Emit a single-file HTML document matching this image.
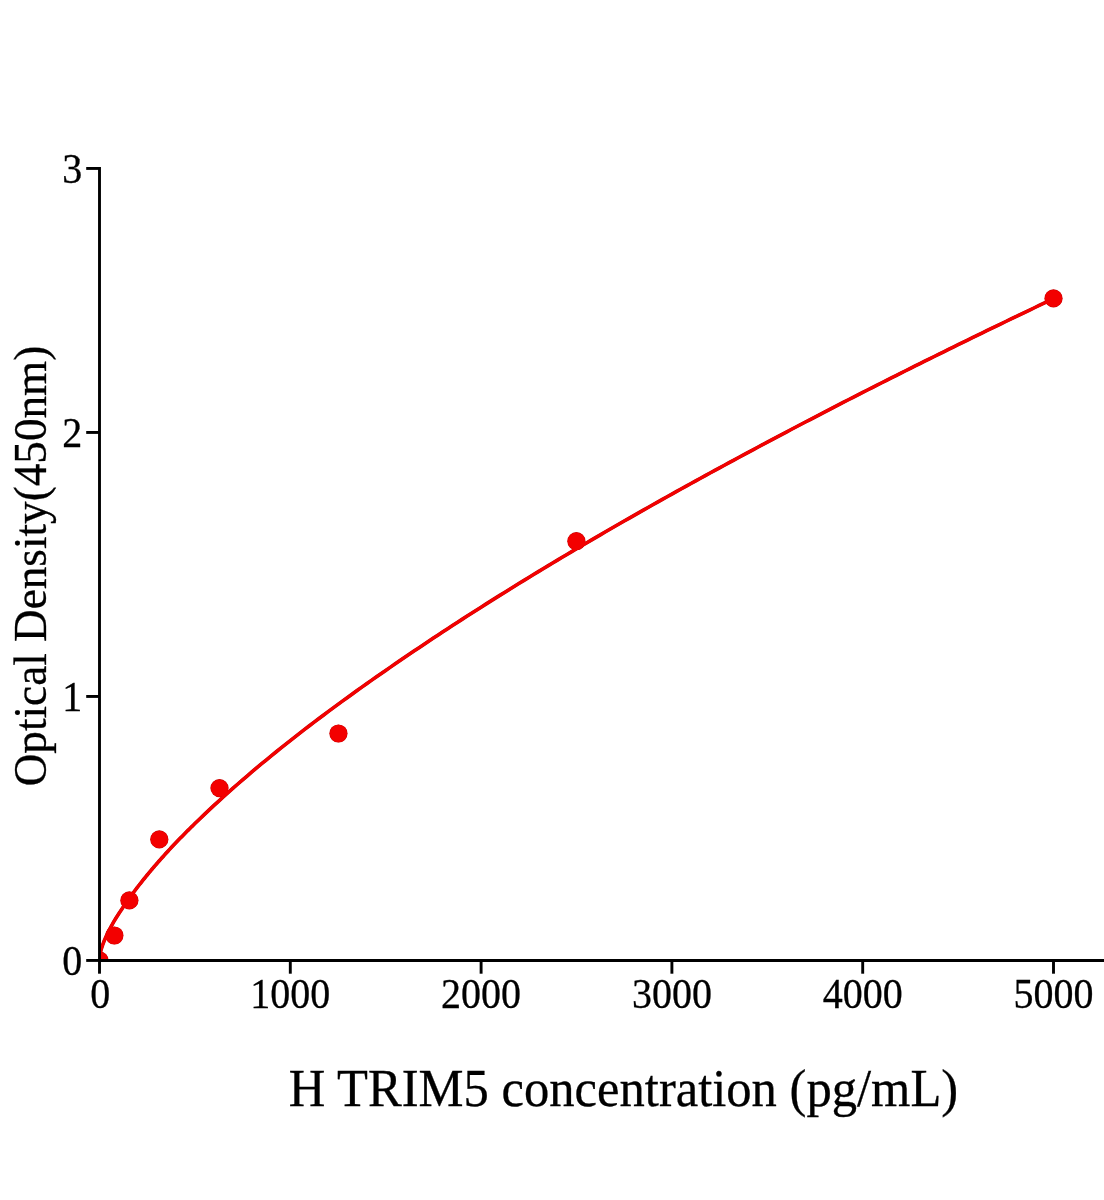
<!DOCTYPE html>
<html><head><meta charset="utf-8"><title>H TRIM5 standard curve</title>
<style>
html,body{margin:0;padding:0;background:#fff;}
svg{display:block;will-change:transform;font-family:"Liberation Serif",serif;}
</style></head>
<body>
<svg width="1104" height="1200" viewBox="0 0 1104 1200">
<rect width="1104" height="1200" fill="#fff"/>
<defs><clipPath id="plot"><rect x="99.5" y="100" width="1010" height="860.45"/></clipPath></defs>
<g clip-path="url(#plot)">
<g fill="#c40000" stroke="#c40000">
<polyline points="99.50,957.96 99.69,956.08 99.88,954.92 100.07,953.95 100.26,953.07 100.45,952.26 100.64,951.49 100.84,950.77 101.03,950.08 101.22,949.42 101.41,948.77 101.60,948.15 101.79,947.55 101.98,946.96 102.17,946.38 102.36,945.82 102.55,945.27 102.74,944.73 102.93,944.20 103.13,943.68 103.32,943.17 103.51,942.67 103.70,942.17 103.89,941.69 104.08,941.21 104.27,940.73 104.46,940.27 104.65,939.80 104.84,939.35 105.03,938.90 105.22,938.45 105.41,938.01 105.61,937.58 105.80,937.15 105.99,936.72 106.18,936.30 106.37,935.88 106.56,935.47 106.75,935.06 106.94,934.65 107.13,934.25 107.32,933.85 107.51,933.45 107.70,933.06 107.90,932.66 108.09,932.28 108.28,931.89 108.47,931.51 108.66,931.13 108.85,930.76 109.04,930.38 109.99,928.55 110.95,926.78 111.90,925.05 112.86,923.36 113.81,921.72 114.76,920.10 115.72,918.53 116.67,917.01 117.63,915.52 118.58,914.05 119.53,912.59 120.49,911.12 121.44,909.65 122.40,908.21 123.35,906.78 124.30,905.37 125.26,903.97 126.21,902.59 127.17,901.23 128.12,899.87 129.07,898.53 130.03,897.21 130.98,895.89 131.94,894.59 132.89,893.29 133.84,892.01 134.80,890.73 135.75,889.47 136.71,888.21 137.66,886.97 138.61,885.73 139.57,884.51 140.52,883.29 141.48,882.08 142.43,880.88 143.38,879.68 144.34,878.50 145.29,877.32 146.25,876.15 147.20,874.99 148.15,873.83 149.11,872.68 150.06,871.54 151.02,870.40 151.97,869.27 152.92,868.15 153.88,867.03 154.83,865.92 155.79,864.81 156.74,863.71 157.69,862.62 158.65,861.53 159.60,860.45 160.56,859.37 161.51,858.30 162.46,857.23 163.42,856.17 164.37,855.11 165.33,854.06 166.28,853.01 167.23,851.97 168.19,850.93 169.14,849.90 170.10,848.87 171.05,847.85 172.00,846.83 172.96,845.82 173.91,844.81 174.87,843.80 175.82,842.80 176.77,841.81 177.73,840.81 178.68,839.83 179.64,838.84 180.59,837.86 181.54,836.88 182.50,835.91 183.45,834.94 184.41,833.97 185.36,833.01 186.31,832.05 187.27,831.09 188.22,830.14 189.18,829.19 190.13,828.24 191.08,827.29 192.04,826.35 192.99,825.42 193.95,824.48 194.90,823.55 199.67,818.93 204.44,814.37 209.21,809.88 213.98,805.43 218.75,801.05 223.52,796.71 228.29,792.42 233.06,788.19 237.83,784.00 242.60,779.86 247.37,775.77 252.14,771.71 256.91,767.70 261.68,763.72 266.45,759.77 271.22,755.87 275.99,751.99 280.76,748.15 285.53,744.35 290.30,740.57 295.07,736.83 299.84,733.11 304.61,729.43 309.38,725.78 314.15,722.15 318.92,718.54 323.69,714.97 328.46,711.41 333.23,707.88 338.00,704.37 342.77,700.89 347.54,697.42 352.31,693.98 357.08,690.55 361.85,687.15 366.62,683.77 371.39,680.40 376.16,677.05 380.93,673.72 385.70,670.41 390.47,667.11 395.24,663.83 400.01,660.57 404.78,657.32 409.55,654.08 414.32,650.85 419.09,647.64 423.86,644.44 428.63,641.25 433.40,638.08 438.17,634.93 442.94,631.78 447.71,628.66 452.48,625.55 457.25,622.45 462.02,619.37 466.79,616.30 471.56,613.24 476.33,610.20 481.10,607.16 485.87,604.14 490.64,601.13 495.41,598.13 500.18,595.15 504.95,592.17 509.72,589.21 514.49,586.25 519.26,583.31 524.03,580.38 528.80,577.46 533.57,574.55 538.34,571.65 543.11,568.76 547.88,565.88 552.65,563.01 557.42,560.15 562.19,557.29 566.96,554.45 571.73,551.62 576.50,548.80 581.27,545.99 586.04,543.18 590.81,540.39 595.58,537.60 600.35,534.82 605.12,532.05 609.89,529.29 614.66,526.54 619.43,523.79 624.20,521.06 628.97,518.33 633.74,515.60 638.51,512.89 643.28,510.18 648.05,507.48 652.82,504.79 657.59,502.11 662.36,499.43 667.13,496.76 671.90,494.10 676.67,491.44 681.44,488.79 686.21,486.15 690.98,483.51 695.75,480.88 700.52,478.26 705.29,475.64 710.06,473.03 714.83,470.42 719.60,467.83 724.37,465.23 729.14,462.65 733.91,460.07 738.68,457.49 743.45,454.92 748.22,452.36 752.99,449.80 757.76,447.25 762.53,444.70 767.30,442.16 772.07,439.62 776.84,437.09 781.61,434.57 786.38,432.05 791.15,429.53 795.92,427.02 800.69,424.52 805.46,422.02 810.23,419.53 815.00,417.04 819.77,414.56 824.54,412.08 829.31,409.61 834.08,407.14 838.85,404.68 843.62,402.22 848.39,399.77 853.16,397.32 857.93,394.88 862.70,392.45 867.47,390.01 872.24,387.59 877.01,385.17 881.78,382.75 886.55,380.34 891.32,377.93 896.09,375.53 900.86,373.14 905.63,370.75 910.40,368.36 915.17,365.98 919.94,363.60 924.71,361.22 929.48,358.85 934.25,356.49 939.02,354.13 943.79,351.77 948.56,349.42 953.33,347.07 958.10,344.73 962.87,342.38 967.64,340.05 972.41,337.72 977.18,335.39 981.95,333.06 986.72,330.74 991.49,328.43 996.26,326.11 1001.03,323.80 1005.80,321.50 1010.57,319.20 1015.34,316.90 1020.11,314.61 1024.88,312.32 1029.65,310.03 1034.42,307.75 1039.19,305.47 1043.96,303.19 1048.73,300.92 1053.50,298.65" fill="none" stroke-width="3.6" stroke-linejoin="round"/>
<g stroke="none">
<circle cx="99.5" cy="960.45" r="9.10"/>
<circle cx="114.4" cy="935.5" r="9.10"/>
<circle cx="129.4" cy="900.4" r="9.10"/>
<circle cx="159.3" cy="839.4" r="9.10"/>
<circle cx="219.5" cy="788.1" r="9.10"/>
<circle cx="338.45" cy="733.5" r="9.10"/>
<circle cx="576.4" cy="541.2" r="9.10"/>
<circle cx="1053.5" cy="298.4" r="9.10"/>
</g>
</g>
<g fill="#f30000" stroke="#f30000">
<polyline points="99.50,957.96 99.69,956.08 99.88,954.92 100.07,953.95 100.26,953.07 100.45,952.26 100.64,951.49 100.84,950.77 101.03,950.08 101.22,949.42 101.41,948.77 101.60,948.15 101.79,947.55 101.98,946.96 102.17,946.38 102.36,945.82 102.55,945.27 102.74,944.73 102.93,944.20 103.13,943.68 103.32,943.17 103.51,942.67 103.70,942.17 103.89,941.69 104.08,941.21 104.27,940.73 104.46,940.27 104.65,939.80 104.84,939.35 105.03,938.90 105.22,938.45 105.41,938.01 105.61,937.58 105.80,937.15 105.99,936.72 106.18,936.30 106.37,935.88 106.56,935.47 106.75,935.06 106.94,934.65 107.13,934.25 107.32,933.85 107.51,933.45 107.70,933.06 107.90,932.66 108.09,932.28 108.28,931.89 108.47,931.51 108.66,931.13 108.85,930.76 109.04,930.38 109.99,928.55 110.95,926.78 111.90,925.05 112.86,923.36 113.81,921.72 114.76,920.10 115.72,918.53 116.67,917.01 117.63,915.52 118.58,914.05 119.53,912.59 120.49,911.12 121.44,909.65 122.40,908.21 123.35,906.78 124.30,905.37 125.26,903.97 126.21,902.59 127.17,901.23 128.12,899.87 129.07,898.53 130.03,897.21 130.98,895.89 131.94,894.59 132.89,893.29 133.84,892.01 134.80,890.73 135.75,889.47 136.71,888.21 137.66,886.97 138.61,885.73 139.57,884.51 140.52,883.29 141.48,882.08 142.43,880.88 143.38,879.68 144.34,878.50 145.29,877.32 146.25,876.15 147.20,874.99 148.15,873.83 149.11,872.68 150.06,871.54 151.02,870.40 151.97,869.27 152.92,868.15 153.88,867.03 154.83,865.92 155.79,864.81 156.74,863.71 157.69,862.62 158.65,861.53 159.60,860.45 160.56,859.37 161.51,858.30 162.46,857.23 163.42,856.17 164.37,855.11 165.33,854.06 166.28,853.01 167.23,851.97 168.19,850.93 169.14,849.90 170.10,848.87 171.05,847.85 172.00,846.83 172.96,845.82 173.91,844.81 174.87,843.80 175.82,842.80 176.77,841.81 177.73,840.81 178.68,839.83 179.64,838.84 180.59,837.86 181.54,836.88 182.50,835.91 183.45,834.94 184.41,833.97 185.36,833.01 186.31,832.05 187.27,831.09 188.22,830.14 189.18,829.19 190.13,828.24 191.08,827.29 192.04,826.35 192.99,825.42 193.95,824.48 194.90,823.55 199.67,818.93 204.44,814.37 209.21,809.88 213.98,805.43 218.75,801.05 223.52,796.71 228.29,792.42 233.06,788.19 237.83,784.00 242.60,779.86 247.37,775.77 252.14,771.71 256.91,767.70 261.68,763.72 266.45,759.77 271.22,755.87 275.99,751.99 280.76,748.15 285.53,744.35 290.30,740.57 295.07,736.83 299.84,733.11 304.61,729.43 309.38,725.78 314.15,722.15 318.92,718.54 323.69,714.97 328.46,711.41 333.23,707.88 338.00,704.37 342.77,700.89 347.54,697.42 352.31,693.98 357.08,690.55 361.85,687.15 366.62,683.77 371.39,680.40 376.16,677.05 380.93,673.72 385.70,670.41 390.47,667.11 395.24,663.83 400.01,660.57 404.78,657.32 409.55,654.08 414.32,650.85 419.09,647.64 423.86,644.44 428.63,641.25 433.40,638.08 438.17,634.93 442.94,631.78 447.71,628.66 452.48,625.55 457.25,622.45 462.02,619.37 466.79,616.30 471.56,613.24 476.33,610.20 481.10,607.16 485.87,604.14 490.64,601.13 495.41,598.13 500.18,595.15 504.95,592.17 509.72,589.21 514.49,586.25 519.26,583.31 524.03,580.38 528.80,577.46 533.57,574.55 538.34,571.65 543.11,568.76 547.88,565.88 552.65,563.01 557.42,560.15 562.19,557.29 566.96,554.45 571.73,551.62 576.50,548.80 581.27,545.99 586.04,543.18 590.81,540.39 595.58,537.60 600.35,534.82 605.12,532.05 609.89,529.29 614.66,526.54 619.43,523.79 624.20,521.06 628.97,518.33 633.74,515.60 638.51,512.89 643.28,510.18 648.05,507.48 652.82,504.79 657.59,502.11 662.36,499.43 667.13,496.76 671.90,494.10 676.67,491.44 681.44,488.79 686.21,486.15 690.98,483.51 695.75,480.88 700.52,478.26 705.29,475.64 710.06,473.03 714.83,470.42 719.60,467.83 724.37,465.23 729.14,462.65 733.91,460.07 738.68,457.49 743.45,454.92 748.22,452.36 752.99,449.80 757.76,447.25 762.53,444.70 767.30,442.16 772.07,439.62 776.84,437.09 781.61,434.57 786.38,432.05 791.15,429.53 795.92,427.02 800.69,424.52 805.46,422.02 810.23,419.53 815.00,417.04 819.77,414.56 824.54,412.08 829.31,409.61 834.08,407.14 838.85,404.68 843.62,402.22 848.39,399.77 853.16,397.32 857.93,394.88 862.70,392.45 867.47,390.01 872.24,387.59 877.01,385.17 881.78,382.75 886.55,380.34 891.32,377.93 896.09,375.53 900.86,373.14 905.63,370.75 910.40,368.36 915.17,365.98 919.94,363.60 924.71,361.22 929.48,358.85 934.25,356.49 939.02,354.13 943.79,351.77 948.56,349.42 953.33,347.07 958.10,344.73 962.87,342.38 967.64,340.05 972.41,337.72 977.18,335.39 981.95,333.06 986.72,330.74 991.49,328.43 996.26,326.11 1001.03,323.80 1005.80,321.50 1010.57,319.20 1015.34,316.90 1020.11,314.61 1024.88,312.32 1029.65,310.03 1034.42,307.75 1039.19,305.47 1043.96,303.19 1048.73,300.92 1053.50,298.65" fill="none" stroke-width="2.9" stroke-linejoin="round"/>
<g stroke="none">
<circle cx="99.5" cy="960.45" r="8.70"/>
<circle cx="114.4" cy="935.5" r="8.70"/>
<circle cx="129.4" cy="900.4" r="8.70"/>
<circle cx="159.3" cy="839.4" r="8.70"/>
<circle cx="219.5" cy="788.1" r="8.70"/>
<circle cx="338.45" cy="733.5" r="8.70"/>
<circle cx="576.4" cy="541.2" r="8.70"/>
<circle cx="1053.5" cy="298.4" r="8.70"/>
</g>
</g>
</g>
<g stroke="#000" stroke-width="2.9" fill="none">
<line x1="99.5" y1="167.00" x2="99.5" y2="960.45"/>
<line x1="98.05" y1="960.45" x2="1104" y2="960.45"/>
<line x1="99.50" y1="960.45" x2="99.50" y2="973.7"/><line x1="290.30" y1="960.45" x2="290.30" y2="973.7"/><line x1="481.10" y1="960.45" x2="481.10" y2="973.7"/><line x1="671.90" y1="960.45" x2="671.90" y2="973.7"/><line x1="862.70" y1="960.45" x2="862.70" y2="973.7"/><line x1="1053.50" y1="960.45" x2="1053.50" y2="973.7"/>
<line x1="86.2" y1="960.45" x2="99.5" y2="960.45"/><line x1="86.2" y1="696.45" x2="99.5" y2="696.45"/><line x1="86.2" y1="432.45" x2="99.5" y2="432.45"/><line x1="86.2" y1="168.45" x2="99.5" y2="168.45"/>
</g>
<g font-size="40" fill="#000" stroke="#000" stroke-width="0.3">
<text transform="translate(100.30,1007.50) scale(1,1.055)" text-anchor="middle">0</text><text transform="translate(290.30,1007.50) scale(1,1.055)" text-anchor="middle">1000</text><text transform="translate(481.10,1007.50) scale(1,1.055)" text-anchor="middle">2000</text><text transform="translate(671.90,1007.50) scale(1,1.055)" text-anchor="middle">3000</text><text transform="translate(862.70,1007.50) scale(1,1.055)" text-anchor="middle">4000</text><text transform="translate(1053.50,1007.50) scale(1,1.055)" text-anchor="middle">5000</text>
<text transform="translate(82.20,974.95) scale(1,1.055)" text-anchor="end">0</text><text transform="translate(82.20,710.95) scale(1,1.055)" text-anchor="end">1</text><text transform="translate(82.20,446.95) scale(1,1.055)" text-anchor="end">2</text><text transform="translate(82.20,182.95) scale(1,1.055)" text-anchor="end">3</text>
</g>
<text transform="translate(623.5,1106.0) scale(1,1.045)" font-size="50.6" text-anchor="middle" fill="#000" stroke="#000" stroke-width="0.3">H TRIM5 concentration (pg/mL)</text>
<text transform="translate(46.0,566) rotate(-90) scale(1,1.03)" font-size="45.2" text-anchor="middle" fill="#000" stroke="#000" stroke-width="0.3">Optical Density(450nm)</text>
</svg>
</body></html>
